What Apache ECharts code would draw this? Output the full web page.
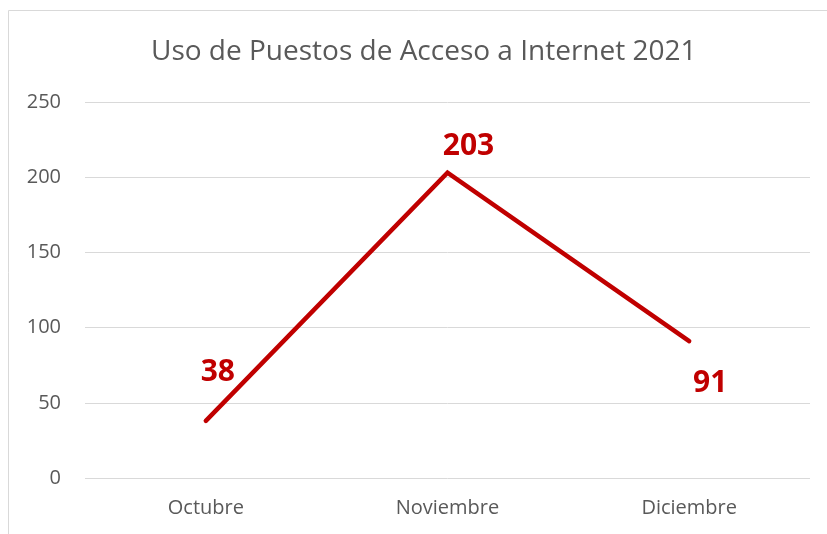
<!DOCTYPE html>
<html>
<head>
<meta charset="utf-8">
<script src="https://cdn.jsdelivr.net/npm/echarts@6/dist/echarts.min.js"></script>
<style>
  html, body { margin: 0; padding: 0; background: #fff; }
  #chart { width: 827px; height: 534px; }
</style>
</head>
<body>
<div id="chart"></div>
<script>
const months = ['Octubre', 'Noviembre', 'Diciembre']
const usos = [38, 203, 91]
const yTicks = [0, 50, 100, 150, 200, 250]

const chart = echarts.init(document.getElementById('chart'))
const font = '"Open Sans", sans-serif'

// label placement like the original (above for first two, below for last)
const labelPlace = [
  { position: 'top', offset: [12, -28] },
  { position: 'top', offset: [21, -6] },
  { position: 'bottom', offset: [21, 22] }
]

chart.setOption({
  animation: false,
  title: {
    text: 'Uso de Puestos de Acceso a Internet 2021',
    left: 146,
    top: 33,
    textStyle: { fontFamily: font, fontSize: 28, fontWeight: 'normal', color: '#595959' }
  },
  graphic: [{
    type: 'rect',
    shape: { x: 8.5, y: 10.5, width: 900, height: 600 },
    style: { fill: 'none', stroke: '#d9d9d9', lineWidth: 1 },
    silent: true
  }],
  grid: { left: 85, right: 17, top: 102, bottom: 56 },
  xAxis: {
    type: 'category',
    data: months,
    axisLine: { show: false },
    axisTick: { show: false },
    axisLabel: { margin: 20, fontFamily: font, fontSize: 20, color: '#595959' }
  },
  yAxis: {
    type: 'value',
    min: yTicks[0],
    max: yTicks[yTicks.length - 1],
    interval: 50,
    axisLine: { show: false },
    axisTick: { show: false },
    axisLabel: { margin: 24, fontFamily: font, fontSize: 20, color: '#595959' },
    splitLine: { lineStyle: { color: '#d9d9d9', width: 1 } }
  },
  series: [{
    type: 'line',
    data: usos.map((v, i) => ({
      value: v,
      label: labelPlace[i]
    })),
    symbol: 'circle',
    symbolSize: 0.01,
    itemStyle: { color: '#c00000' },
    lineStyle: { color: '#c00000', width: 4.5, cap: 'round', join: 'miter' },
    label: {
      show: true,
      fontFamily: font,
      fontSize: 30,
      fontWeight: 'bold',
      color: '#c00000'
    }
  }]
})
</script>
</body>
</html>
